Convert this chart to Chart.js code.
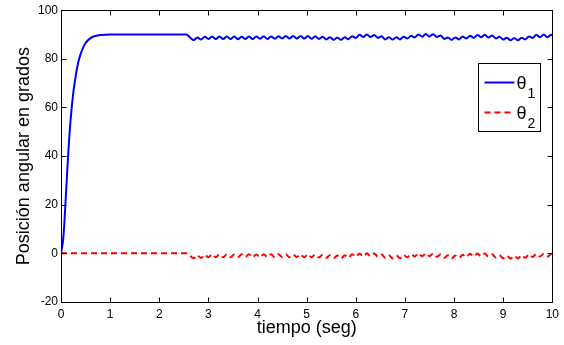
<!DOCTYPE html>
<html>
<head>
<meta charset="utf-8">
<script src="https://cdn.jsdelivr.net/npm/chart.js@4/dist/chart.umd.min.js"></script>
<style>
  html, body { margin: 0; padding: 0; background: #fff; }
</style>
</head>
<body>
<canvas id="lineChart" width="564" height="345"></canvas>
<script>
// temps (s)
const tiempo = [
  0, 0.05, 0.1, 0.15, 0.2, 0.25, 0.3, 0.35, 0.4, 0.45, 0.5, 0.6, 0.7, 0.8, 1.0, 1.5, 2.0,
  2.55, 2.625, 2.7, 2.775, 2.85, 2.925, 3.0, 3.075, 3.15, 3.225, 3.3, 3.375, 3.45, 3.525, 3.6, 3.675,
  3.75, 3.825, 3.9, 3.975, 4.05, 4.125, 4.2, 4.275, 4.35, 4.425, 4.5, 4.575, 4.65, 4.725, 4.8, 4.875,
  4.95, 5.025, 5.1, 5.175, 5.25, 5.325, 5.4, 5.475, 5.55, 5.625, 5.7, 5.775, 5.85, 5.925, 6.0, 6.075,
  6.15, 6.225, 6.3, 6.375, 6.45, 6.525, 6.6, 6.675, 6.75, 6.825, 6.9, 6.975, 7.05, 7.125, 7.2, 7.275,
  7.35, 7.425, 7.5, 7.575, 7.65, 7.725, 7.8, 7.875, 7.95, 8.025, 8.1, 8.175, 8.25, 8.325, 8.4, 8.475,
  8.55, 8.625, 8.7, 8.775, 8.85, 8.925, 9.0, 9.075, 9.15, 9.225, 9.3, 9.375, 9.45, 9.525, 9.6, 9.675,
  9.75, 9.825, 9.9, 9.975, 10.0
];
// theta 1 (grados)
const theta1 = [
  0, 7, 24, 42, 56, 66, 73, 78.5, 82, 84.6, 86.5, 88.5, 89.4, 89.8, 90, 90, 90,
  90, 88.8, 87.7, 88.8, 87.9, 89.1, 88.2, 89.2, 88.2, 89.2, 88.2, 89.2, 88.2, 89.2, 88.1, 89.1,
  88.2, 89.2, 88.2, 89.2, 88.3, 89.3, 88.2, 89.2, 88.3, 89.3, 88.4, 89.4, 88.4, 89.4, 88.4, 89.4,
  88.4, 89.4, 88.3, 89.3, 88.2, 89.1, 88.0, 88.9, 87.8, 88.8, 87.8, 88.9, 88.1, 89.3, 88.6, 89.9,
  89.0, 90.0, 89.0, 89.8, 88.6, 89.3, 88.0, 88.9, 87.9, 88.9, 88.0, 89.1, 88.4, 89.5, 88.8, 90.0,
  89.1, 90.2, 89.2, 90.1, 89.0, 89.6, 88.2, 88.8, 87.8, 88.8, 88.0, 89.2, 88.4, 89.5, 88.6, 89.8,
  88.9, 89.9, 88.8, 89.6, 88.4, 89.1, 87.9, 88.7, 87.6, 88.6, 87.6, 88.7, 88.0, 89.2, 88.6, 89.9,
  88.9, 90.0, 88.9, 89.9, 89.6
];
// theta 2 (grados)
const theta2 = [
  0, 0, 0, 0, 0, 0, 0, 0, 0, 0, 0, 0, 0, 0, 0, 0, 0,
  0, -1.0, -2.0, -0.8, -1.9, -0.6, -1.6, -0.4, -1.6, -0.4, -1.6, -0.4, -1.6, -0.5, -1.6, -0.4,
  -1.5, -0.4, -1.6, -0.5, -1.6, -0.4, -1.5, -0.4, -1.6, -0.4, -1.5, -0.4, -1.6, -0.5, -1.5, -0.4,
  -1.6, -0.4, -1.6, -0.5, -1.7, -0.6, -1.8, -0.8, -2.0, -0.9, -2.1, -0.8, -1.8, -0.4, -1.4, -0.1,
  -1.2, 0.0, -1.2, -0.1, -1.4, -0.5, -1.8, -0.8, -2.1, -0.9, -2.0, -0.7, -1.6, -0.3, -1.3, 0.0,
  -1.2, 0.0, -1.2, -0.1, -1.4, -0.5, -1.8, -0.8, -2.1, -0.9, -1.9, -0.6, -1.5, -0.2, -1.3, -0.1,
  -1.2, -0.1, -1.3, -0.4, -1.7, -0.8, -2.0, -1.0, -2.2, -1.0, -2.1, -0.8, -1.8, -0.4, -1.5, -0.2,
  -1.3, -0.2, -1.3, -0.2, 0.5
];
const etiquetas = ['θ1', 'θ2'];
const yMin = -20, yMax = 100, yPaso = 20;
const xMin = 0, xMax = 10, xPaso = 1;

const police = '"Liberation Sans", Arial, Helvetica, sans-serif';
Chart.defaults.font.family = police;
Chart.defaults.color = '#000';

// cadre + graduations vers l'interieur (style matlab)
const cadre = {
  id: 'cadre',
  afterDatasetsDraw(chart) {
    const { ctx, chartArea: a, scales: { x, y } } = chart;
    const L = Math.round(a.left) + 0.5, R = Math.round(a.right) + 0.5;
    const T = Math.round(a.top) + 0.5, B = Math.round(a.bottom) + 0.5;
    ctx.save();
    ctx.strokeStyle = '#000';
    ctx.lineWidth = 1;
    ctx.strokeRect(L, T, R - L, B - T);
    ctx.beginPath();
    x.ticks.forEach(t => {
      const p = Math.round(x.getPixelForValue(t.value)) + 0.5;
      ctx.moveTo(p, B); ctx.lineTo(p, B - 5);
      ctx.moveTo(p, T); ctx.lineTo(p, T + 5);
    });
    y.ticks.forEach(t => {
      const p = Math.round(y.getPixelForValue(t.value)) + 0.5;
      ctx.moveTo(L, p); ctx.lineTo(L + 5, p);
      ctx.moveTo(R, p); ctx.lineTo(R - 5, p);
    });
    ctx.stroke();
    ctx.restore();
  }
};

// legende avec indices
const legende = {
  id: 'legende',
  afterDraw(chart) {
    const { ctx, chartArea: a } = chart;
    const w = 62, h = 68;
    const bx = Math.round(a.right - 12 - w) + 0.5, by = Math.round(a.top + 53) + 0.5;
    ctx.save();
    ctx.fillStyle = '#fff';
    ctx.fillRect(bx, by, w, h);
    ctx.strokeStyle = '#000';
    ctx.lineWidth = 1;
    ctx.strokeRect(bx, by, w, h);
    chart.data.datasets.forEach((ds, i) => {
      const ly = by + 19 + i * 30;
      ctx.strokeStyle = ds.borderColor;
      ctx.lineWidth = ds.borderWidth;
      ctx.setLineDash(ds.borderDash || []);
      ctx.beginPath();
      ctx.moveTo(bx + 6, ly); ctx.lineTo(bx + 36, ly);
      ctx.stroke();
      ctx.setLineDash([]);
      ctx.fillStyle = '#000';
      ctx.textBaseline = 'alphabetic';
      ctx.font = '18px ' + police;
      ctx.fillText(ds.label.charAt(0), bx + 38, ly + 6);
      const wt = ctx.measureText(ds.label.charAt(0)).width;
      ctx.font = '14px ' + police;
      ctx.fillText(ds.label.slice(1), bx + 39 + wt, ly + 15);
    });
    ctx.restore();
  }
};

const ctxLine = document.getElementById('lineChart').getContext('2d');
const lineChart = new Chart(ctxLine, {
  type: 'line',
  data: {
    datasets: [{
      label: etiquetas[0],
      data: tiempo.map((t, i) => ({ x: t, y: theta1[i] })),
      borderColor: '#0000ff',
      borderWidth: 2,
      pointRadius: 0,
      cubicInterpolationMode: 'monotone'
    }, {
      label: etiquetas[1],
      data: tiempo.map((t, i) => ({ x: t, y: theta2[i] })),
      borderColor: '#ff0000',
      borderWidth: 2,
      borderDash: [6, 4],
      pointRadius: 0,
      cubicInterpolationMode: 'monotone'
    }]
  },
  options: {
    responsive: false,
    animation: false,
    layout: { padding: { top: 10, right: 11, left: 0, bottom: 0 } },
    plugins: { legend: { display: false }, tooltip: { enabled: false } },
    scales: {
      x: {
        type: 'linear',
        min: xMin, max: xMax,
        grid: { display: false, drawTicks: false },
        border: { display: false },
        ticks: { stepSize: xPaso, padding: 5, font: { size: 12 }, maxRotation: 0 },
        title: { display: true, text: 'tiempo (seg)', font: { size: 18 }, padding: { top: 0, bottom: 6 } },
        afterFit(s) { s.height = 43; }
      },
      y: {
        min: yMin, max: yMax,
        grid: { display: false, drawTicks: false },
        border: { display: false },
        ticks: { stepSize: yPaso, padding: 3, font: { size: 12 } },
        title: { display: true, text: 'Posición angular en grados', font: { size: 18 }, padding: { top: 13, bottom: 0 } },
        afterFit(s) { s.width = 61; }
      }
    }
  },
  plugins: [cadre, legende]
});
</script>
</body>
</html>
